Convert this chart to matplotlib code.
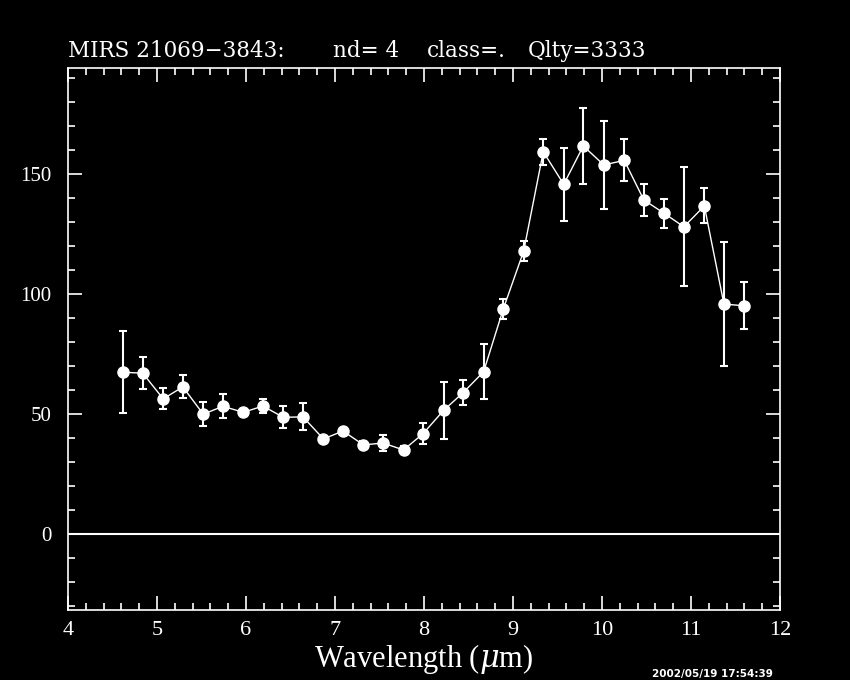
import matplotlib
matplotlib.use('Agg')
import matplotlib.pyplot as plt
from matplotlib.ticker import MultipleLocator

plt.rcParams['font.family'] = ['Liberation Serif', 'DejaVu Serif']
plt.rcParams['mathtext.fontset'] = 'dejavuserif'

# 光谱数据
wave = [4.62, 4.84, 5.07, 5.29, 5.52, 5.74, 5.97, 6.19, 6.42, 6.64,
        6.87, 7.09, 7.32, 7.54, 7.77, 7.99, 8.22, 8.44, 8.67, 8.89,
        9.12, 9.34, 9.57, 9.79, 10.02, 10.25, 10.47, 10.70, 10.92, 11.15,
        11.37, 11.60]
flux = [67.4, 67.0, 56.3, 61.3, 49.9, 53.2, 50.7, 53.3, 48.6, 48.8,
        39.6, 42.9, 37.1, 37.9, 35.0, 41.8, 51.5, 58.9, 67.6, 93.7,
        117.9, 159.3, 145.7, 161.7, 153.8, 155.7, 139.2, 133.6, 128.0, 136.7,
        95.8, 95.1]
err = [17.1, 6.6, 4.4, 4.8, 5.0, 5.0, 1.5, 3.0, 4.6, 5.6,
       1.0, 1.0, 1.5, 3.4, 1.5, 4.3, 12.0, 5.3, 11.4, 4.2,
       4.2, 5.4, 15.2, 16.0, 18.4, 8.7, 6.8, 6.2, 24.8, 7.3,
       25.7, 9.7]

# 标题分段 (文字, 左边像素位置)
title_parts = [('MIRS 21069\u22123843:', 68), ('nd= 4', 333),
               ('class=.', 427), ('Qlty=3333', 528)]
stamp = '2002/05/19 17:54:39'

fig = plt.figure(figsize=(8.5, 6.8), dpi=100, facecolor='black')
ax = fig.add_axes([68/850, 1 - 610/680, 712/850, 542/680], facecolor='black')

ax.axhline(0, color='white', lw=1.5)
ax.errorbar(wave, flux, yerr=err, fmt='o-', color='white', ms=8, lw=1,
            elinewidth=1.5, capsize=3, capthick=1.5, mec='white', mfc='white')

ax.set_xlim(4, 12)
ax.set_ylim(-31.7, 194.2)
ax.xaxis.set_major_locator(MultipleLocator(1))
ax.xaxis.set_minor_locator(MultipleLocator(0.2))
ax.yaxis.set_major_locator(MultipleLocator(50))
ax.yaxis.set_minor_locator(MultipleLocator(10))
ax.tick_params(which='both', direction='in', colors='white', top=True, right=True,
               labelsize=15, width=1.2)
ax.tick_params(which='major', length=10)
ax.tick_params(which='minor', length=5)
ax.tick_params(axis='x', pad=8, labelsize=16)
ax.tick_params(axis='y', pad=12)
for s in ax.spines.values():
    s.set_color('white')
    s.set_linewidth(1.2)

ax.set_xlabel(r'Wavelength ($\mu$m)', color='white', fontsize=22, labelpad=1)
for txt, px in title_parts:
    fig.text(px/850, 1 - 57/680, txt, color='white', fontsize=15.5, ha='left',
             va='baseline', family='DejaVu Serif')
fig.text(652/850, 1 - 679/680, stamp, color='white', fontsize=7.5, ha='left', va='bottom',
         family='DejaVu Sans', weight='bold')

fig.savefig('out.png', dpi=100, facecolor='black')
